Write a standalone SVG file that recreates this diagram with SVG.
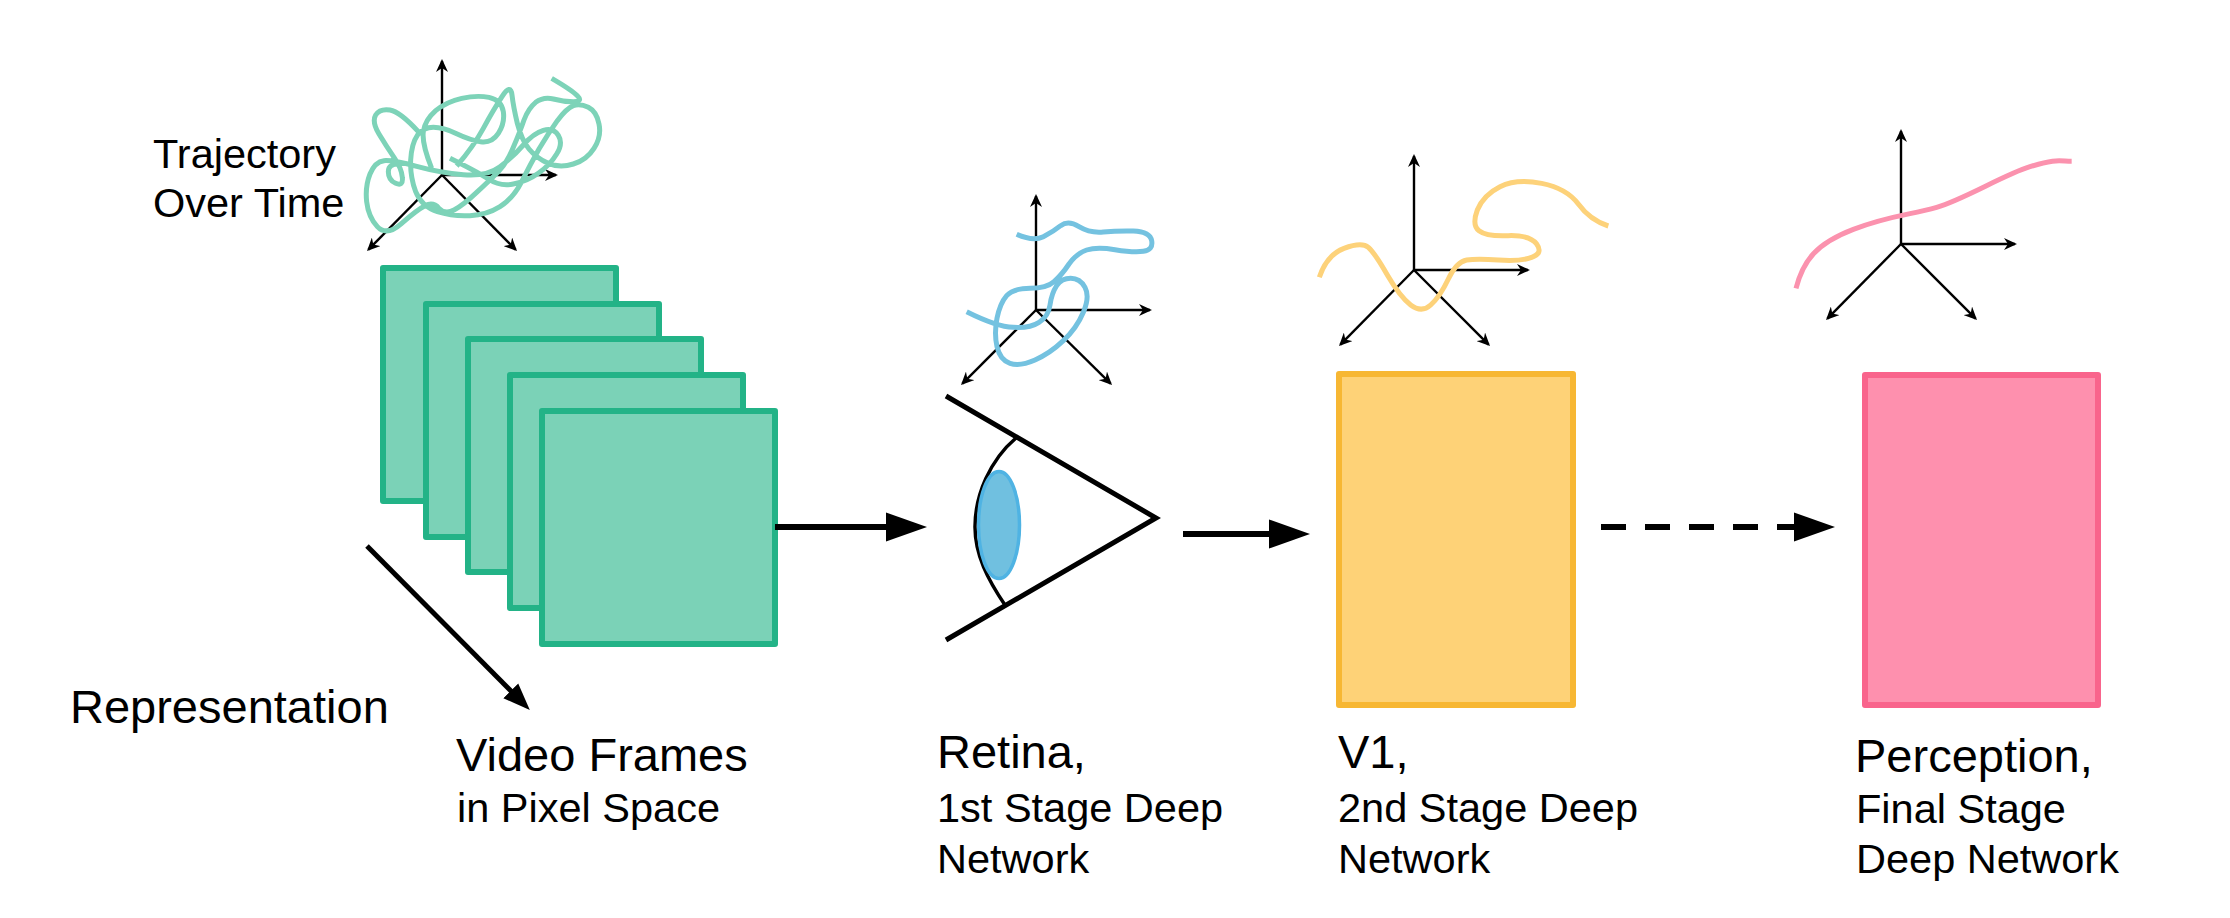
<svg xmlns="http://www.w3.org/2000/svg" width="2230" height="918" viewBox="0 0 2230 918">
<style>
text{font-family:"Liberation Sans",Arial,sans-serif;fill:#000}
.l{font-size:47px}.m{font-size:41.5px}
.frame{fill:#7bd2b7;stroke:#23b387;stroke-width:6;stroke-linejoin:round}
.v1{fill:#fed277;stroke:#f7b733;stroke-width:6;stroke-linejoin:round}
.perc{fill:#fe90ae;stroke:#f9648c;stroke-width:6;stroke-linejoin:round}
.ax{stroke:#000;stroke-width:2.4;fill:none;marker-end:url(#stealth)}
.cv{fill:none;stroke-width:15;stroke-linecap:butt;stroke-linejoin:round}
.eye{fill:none;stroke:#000;stroke-width:5}
.big{fill:none;stroke:#000;stroke-width:6;marker-end:url(#tri)}
</style>
<defs>
<marker id="stealth" markerUnits="userSpaceOnUse" markerWidth="14" markerHeight="12" refX="11" refY="6" orient="auto"><path d="M13,6 L0,0 L4,6 L0,12z" fill="#000"/></marker>
<marker id="tri" markerUnits="userSpaceOnUse" markerWidth="42" markerHeight="30" refX="1" refY="15" orient="auto"><path d="M0,0.5 L41,15 L0,29.5z" fill="#000"/></marker>
<marker id="tri2" markerUnits="userSpaceOnUse" markerWidth="28" markerHeight="22" refX="1" refY="11" orient="auto"><path d="M0,0.5 L27,11 L0,21.5z" fill="#000"/></marker>
</defs>
<rect width="2230" height="918" fill="#fff"/>

<g id="space-frames">
<path class="ax" d="M442,175V61"/><path class="ax" d="M442,175H556"/><path class="ax" d="M442,175L368.4,249.6"/><path class="ax" d="M442,175L515.6,249.6"/>
<path class="cv" stroke="#7dd3b8" transform="translate(300 40) scale(.33333)" d="M755,115 Q815,150 832,167 Q850,185 820,185 Q790,185 760,177 Q730,170 707,187 Q685,205 672,240 Q660,275 640,322 Q620,370 595,395 Q570,420 530,457 Q490,495 462,510 Q435,525 417,505 Q400,485 375,497 Q350,510 305,550 Q260,590 232,560 Q205,530 200,485 Q195,440 210,402 Q225,365 252,362 Q280,360 350,379 Q420,398 490,404 Q560,410 600,380 Q640,350 670,315 Q700,280 730,271 Q760,262 775,286 Q790,310 770,342 Q750,375 715,400 Q680,425 640,432 Q600,440 565,417 Q530,395 450,355 M470,378 Q520,320 550,265 Q580,210 606,170 Q632,130 636,165 Q640,200 652,250 Q665,300 687,327 Q710,355 745,370 Q780,385 820,372 Q860,360 882,325 Q905,290 897,252 Q890,215 865,202 Q840,190 820,197 Q800,205 772,242 Q745,280 717,327 Q690,375 665,425 Q640,475 600,500 Q560,525 510,527 Q460,530 412,515 Q365,500 347,455 Q330,410 332,360 Q335,310 352,286 Q370,262 400,262 Q430,262 470,281 Q510,300 542,305 Q575,310 595,280 Q615,250 610,215 Q605,180 567,172 Q530,165 485,175 Q440,185 407,212 Q375,240 370,275 Q365,310 395,385 M355,275 Q300,215 270,210 Q240,205 227,225 Q215,245 237,282 Q260,320 282,352 Q305,385 307,412 Q310,440 287,430 Q265,420 265,395 Q265,370 300,372"/>
</g>
<g id="label-trajectory">
<text class="m" x="153" y="168">Trajectory</text>
<text class="m" x="153" y="217">Over Time</text>
</g>

<g id="video-frames">
<rect class="frame" x="383" y="268" width="233" height="233"/>
<rect class="frame" x="426" y="304" width="233" height="233"/>
<rect class="frame" x="468" y="339" width="233" height="233"/>
<rect class="frame" x="510" y="375" width="233" height="233"/>
<rect class="frame" x="542" y="411" width="233" height="233"/>
<text class="l" x="456" y="771">Video Frames</text>
<text class="m" x="457" y="822">in Pixel Space</text>
</g>

<g id="representation"><text class="l" x="70" y="723">Representation</text></g>

<g id="space-retina">
<path class="ax" d="M1036,310V196"/><path class="ax" d="M1036,310H1150"/><path class="ax" d="M1036,310L962.4,383.6"/><path class="ax" d="M1036,310L1110.6,383.6"/>
<path class="cv" stroke="#74c2e0" transform="translate(920 200) scale(.33333)" d="M290,103 Q340,125 370,110 Q400,95 422,77 Q445,60 477,80 Q510,100 550,96 Q590,92 640,93 Q690,95 695,122 Q700,150 670,154 Q640,158 585,149 Q530,140 500,150 Q470,160 447,192 Q425,225 402,245 Q380,265 330,265 Q280,265 260,287 Q240,310 231,355 Q222,400 231,440 Q240,480 270,490 Q300,500 345,480 Q390,460 430,422 Q470,385 490,337 Q510,290 495,262 Q480,235 452,235 Q425,235 410,257 Q395,280 390,315 Q385,350 357,367 Q330,385 280,382 Q230,380 140,335"/>
</g>

<g id="retina">
<path class="eye" d="M946,396 L1156,518 L946,640"/>
<path fill="none" stroke="#000" stroke-width="3.5" d="M1016,438 C990,460 975,495 975,527 C975,555 988,580 1005,605"/>
<ellipse cx="999" cy="525" rx="20.5" ry="53.5" fill="#70c0e0" stroke="#4fb3e3" stroke-width="3.5"/>
<text class="l" x="937" y="768">Retina,</text>
<text class="m" x="937" y="822">1st Stage Deep</text>
<text class="m" x="937" y="873">Network</text>
</g>

<g id="space-v1">
<path class="ax" d="M1414,270V156"/><path class="ax" d="M1414,270H1528"/><path class="ax" d="M1414,270L1340.4,344.6"/><path class="ax" d="M1414,270L1488.6,344.6"/>
<path class="cv" stroke="#fdd27a" transform="translate(1290 140) scale(.33333)" d="M88,412 Q110,345 162,325 Q215,305 235,322 Q255,340 292,405 Q330,470 362,495 Q395,520 422,495 Q450,470 475,417 Q500,365 530,360 Q560,355 625,360 Q690,365 725,352 Q760,340 740,312 Q720,285 655,287 Q590,290 567,272 Q545,255 562,210 Q580,165 630,140 Q680,115 755,130 Q830,145 865,192 Q900,240 955,258"/>
</g>

<g id="v1">
<rect class="v1" x="1339" y="374" width="234" height="331"/>
<text class="l" x="1338" y="768">V1,</text>
<text class="m" x="1338" y="822">2nd Stage Deep</text>
<text class="m" x="1338" y="873">Network</text>
</g>

<g id="space-perception">
<path class="ax" d="M1901,244V131"/><path class="ax" d="M1901,244H2015"/><path class="ax" d="M1901,244L1827.4,318.6"/><path class="ax" d="M1901,244L1975.6,318.6"/>
<path class="cv" stroke="#fb92ae" transform="translate(1770 120) scale(.33333)" d="M78,505 C100,420 140,370 250,328 S420,285 500,262 S700,165 780,140 S870,124 905,124"/>
</g>

<g id="perception">
<rect class="perc" x="1865" y="375" width="233" height="330"/>
<text class="l" x="1855" y="772">Perception,</text>
<text class="m" x="1856" y="823">Final Stage</text>
<text class="m" x="1856" y="873">Deep Network</text>
</g>

<g id="connectors">
<path class="big" d="M775,527H887"/>
<path class="big" d="M1183,534H1270"/>
<path class="big" stroke-dasharray="25 19" d="M1601,527H1795"/>
<path fill="none" stroke="#000" stroke-width="5" marker-end="url(#tri2)" d="M367,546L511.5,691.5"/>
</g>
</svg>
